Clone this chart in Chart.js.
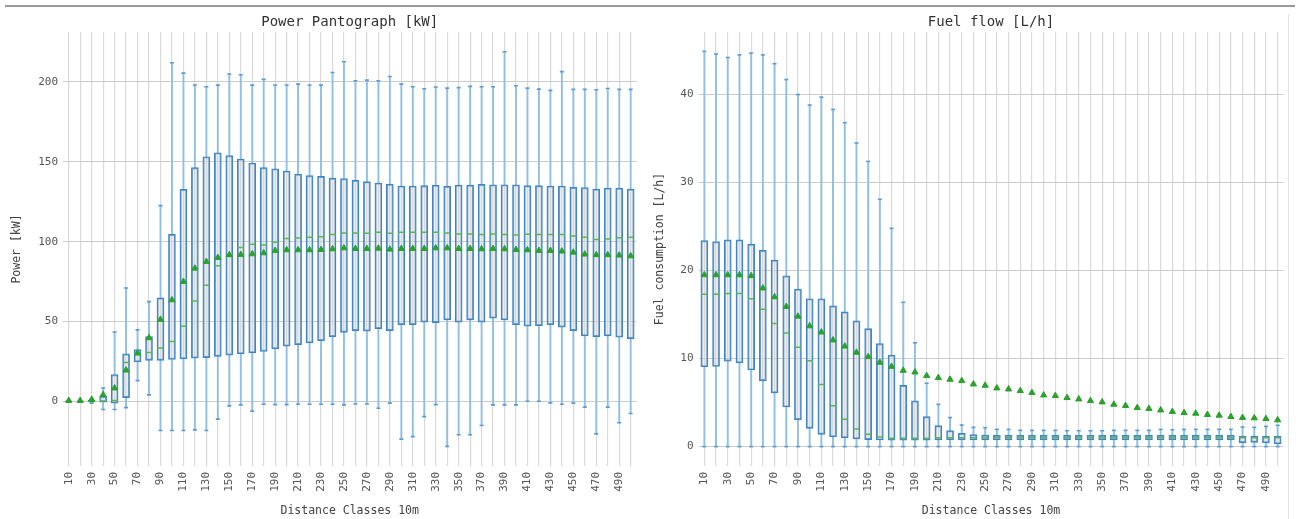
<!DOCTYPE html>
<html><head><meta charset="utf-8">
<script src="https://cdn.jsdelivr.net/npm/chart.js@4.4.1/dist/chart.umd.min.js"></script>
<style>
html,body{margin:0;padding:0;background:#fff;width:1300px;height:519px;overflow:hidden}
#topbar{position:absolute;left:5px;top:5px;width:1290px;height:2px;background:#9a9a9a}
#rline{position:absolute;left:1288px;top:14px;width:1px;height:505px;background:#e3e3e3}
.wrap{position:absolute;top:0;width:650px;height:519px}
</style></head><body>
<div id="topbar"></div>
<div class="wrap" style="left:0"><canvas id="c1" width="650" height="519"></canvas></div>
<div class="wrap" style="left:650px"><canvas id="c2" width="650" height="519"></canvas></div>
<div id="rline"></div>
<script>
const categories = ['10','20','30','40','50','60','70','80','90','100','110','120','130','140','150','160','170','180','190','200','210','220','230','240','250','260','270','280','290','300','310','320','330','340','350','360','370','380','390','400','410','420','430','440','450','460','470','480','490','500'];

// Power Pantograph [kW]
const powerLow = [0,0,-1,-5,-5,-3.8,13.1,4.2,-18.1,-18.1,-18.1,-17.7,-18.1,-11,-2.7,-2.1,-6,-1.7,-1.9,-1.9,-1.7,-1.7,-1.7,-1.7,-2.1,-1.5,-1.5,-4.2,-1,-23.5,-21.9,-9.4,-1.9,-28,-20.8,-20.8,-15,-2.1,-2.1,-2.1,0.2,0.2,-0.8,-1.7,-1,-3.5,-20.2,-3.5,-13.3,-7.5];
const powerQ1 = [0,0,0,-0.4,-1,2.5,24.8,25.8,25.8,26.3,26.7,27.1,27.5,28.3,29,29.8,30.4,31.3,32.9,34.6,35.6,36.7,38.1,40.6,43.3,44.4,44,45.6,44.4,48.1,48.1,49.6,49.4,51,49.6,51,49.6,52.1,51,48.1,47.1,47.5,48.1,46.5,44.4,41,40.6,41,40.2,39.4];
const powerMedian = [0,0,0,0.3,0.6,24.4,29.8,30.6,33.5,37.5,47.1,62.9,72.7,85,90.8,96.3,98.3,97.9,99.6,101.9,102.3,102.7,103.1,104.4,105.4,105.4,105.2,105.8,105.2,105.8,105.8,105.8,105.8,105.4,104.8,104.8,104.4,104.8,104.4,104.2,104.6,104.4,104.4,104.4,103.5,102.7,101.3,101.7,102.5,102.7];
const powerQ3 = [0,0,1,3.3,16.9,29.8,32.5,40.6,64.8,104.6,132.7,146.3,153.1,155.6,153.8,151.7,149.2,146.3,145.6,144.2,142.3,141.3,140.8,139.8,139.4,138.3,137.5,136.7,136,134.8,134.8,135,135.4,134.6,135.4,135.4,135.8,135.6,135.6,135.6,135,135,134.8,134.8,134,133.8,132.9,133.5,133.5,132.9];
const powerHigh = [0,0,1.5,8.5,43.5,71,44.8,62.5,122.5,211.9,205.4,198,196.9,197.9,204.8,204.4,197.9,201.5,198,198,198.5,198,197.9,205.8,212.5,200.6,201,200.6,203.3,198.5,196.9,195.6,196.7,196,196.3,197.1,196.9,196.9,218.75,197.5,196,195.4,194.6,206.3,195.2,195.2,195,195.8,195.2,195.2];
const powerMean = [0.6,0.6,1.3,4.2,8.4,19.6,30.2,39.8,51.3,63.5,75,83.3,87.5,90,91.7,91.9,92.3,92.9,94.4,94.8,94.8,94.8,95,95.4,96,95.6,95.6,95.8,95.2,95.6,95.6,95.6,96,96,95.6,95.6,95.4,95.6,95.4,95,94.8,94.4,94.4,94,93.3,92.1,91.7,91.7,91.5,91];
const powerTicks = [0,50,100,150,200];

// Fuel flow [L/h]
const fuelLow = [0,0,0,0,0,0,0,0,0,0,0,0,0,0,0,0,0,0,0,0,0,0,0,0,0,0,0,0,0,0,0,0,0,0,0,0,0,0,0,0,0,0,0,0,0,0,0,0,0,0];
const fuelQ1 = [9.07,9.1,9.7,9.5,8.7,7.5,6.1,4.5,3.06,2.08,1.4,1.1,1.0,0.87,0.8,0.75,0.72,0.72,0.72,0.72,0.76,0.76,0.76,0.76,0.76,0.76,0.76,0.76,0.76,0.76,0.76,0.76,0.76,0.76,0.76,0.76,0.76,0.76,0.76,0.76,0.76,0.76,0.76,0.76,0.76,0.76,0.45,0.49,0.42,0.3];
const fuelMedian = [17.3,17.3,17.4,17.4,16.8,15.6,14.0,12.9,11.3,9.75,7.06,4.65,3.1,2.0,1.4,1.1,0.94,0.94,0.94,0.94,1.0,1.02,1.02,1.02,1.02,1.02,1.02,1.02,1.02,1.02,1.02,1.02,1.02,1.02,1.02,1.02,1.02,1.02,1.02,1.02,1.02,1.02,1.02,1.02,1.02,1.02,1.02,1.02,1.02,1.02];
const fuelQ3 = [23.4,23.3,23.5,23.5,23.0,22.3,21.2,19.4,17.9,16.8,16.8,16.0,15.3,14.3,13.4,11.7,10.4,6.95,5.2,3.4,2.38,1.81,1.51,1.36,1.32,1.28,1.28,1.28,1.28,1.28,1.28,1.28,1.28,1.28,1.28,1.28,1.28,1.28,1.28,1.28,1.28,1.28,1.28,1.28,1.28,1.28,1.2,1.2,1.2,1.2];
const fuelHigh = [44.9,44.6,44.2,44.5,44.7,44.5,43.5,41.7,40.0,38.8,39.7,38.3,36.8,34.5,32.4,28.1,24.8,16.4,11.8,7.2,4.8,3.3,2.45,2.19,2.15,1.96,1.96,1.85,1.85,1.85,1.85,1.81,1.81,1.81,1.81,1.85,1.85,1.85,1.85,1.96,1.92,1.96,1.96,1.96,1.96,1.96,2.23,2.19,2.3,2.42];
const fuelMean = [19.5,19.5,19.5,19.5,19.4,18.0,17.0,15.9,14.8,13.7,13.0,12.1,11.4,10.7,10.2,9.56,9.1,8.65,8.46,8.05,7.82,7.63,7.48,7.1,6.95,6.65,6.53,6.35,6.12,5.85,5.78,5.55,5.4,5.21,5.06,4.8,4.65,4.42,4.31,4.15,3.97,3.85,3.78,3.63,3.55,3.4,3.29,3.25,3.17,3.02];
const fuelTicks = [0,10,20,30,40];

const FONT = "'DejaVu Sans Mono', monospace";
const BOX_EDGE = '#3d85c6', BOX_FILL = 'rgba(215,215,215,0.45)', WHISKER = '#8fbfe4', CAP = '#5b9bd5';
const MEDIAN = '#5cb552', MEAN = '#2ca02c';

function makeChart(id, o) {
  const n = categories.length;
  const wLow = [], wHigh = [], box = [];
  for (let i = 0; i < n; i++) {
    wLow.push([o.low[i], o.q1[i]]);
    wHigh.push([o.q3[i], o.high[i]]);
    box.push([o.q1[i], o.q3[i]]);
  }
  const pointDs = (data, style, r, color, fill, order, bw) => ({
    type: 'line', data, showLine: false, order,
    pointStyle: style, pointRadius: r, pointHoverRadius: r,
    pointBorderColor: color, pointBackgroundColor: fill, pointBorderWidth: bw
  });
  return new Chart(document.getElementById(id), {
    type: 'bar',
    data: {
      labels: categories,
      datasets: [
        {data: wLow, backgroundColor: WHISKER, borderWidth: 0, barThickness: 1.2, grouped: false, order: 6},
        {data: wHigh, backgroundColor: WHISKER, borderWidth: 0, barThickness: 1.2, grouped: false, order: 6},
        {data: box, backgroundColor: BOX_FILL, borderColor: BOX_EDGE, borderWidth: 1.3, borderSkipped: false, barThickness: 7, grouped: false, order: 5},
        pointDs(o.high, 'line', 2, CAP, CAP, 4, 1.6),
        pointDs(o.low, 'line', 2, CAP, CAP, 4, 1.6),
        pointDs(o.med, 'line', 3.2, MEDIAN, MEDIAN, 2, 1.5),
        pointDs(o.mean, 'triangle', 3.6, MEAN, MEAN, 1, 1)
      ]
    },
    options: {
      responsive: false, animation: false, events: [],
      layout: {padding: {left: 0, right: o.padRight, top: 14, bottom: 0}},
      plugins: {
        legend: {display: false}, tooltip: {enabled: false},
        title: {display: true, text: o.title, fullSize: false, color: '#333',
          font: {family: FONT, size: 14, weight: 'normal'}, padding: {top: 0, bottom: 1.2}}
      },
      scales: {
        x: {
          offset: true,
          border: {display: false},
          grid: {offset: false, drawTicks: false, color: '#dadada', lineWidth: 1.2},
          ticks: {autoSkip: false, minRotation: 90, maxRotation: 90, padding: 6, color: '#555',
            font: {family: FONT, size: 11},
            callback: (v, i) => (i % 2 === 0 ? categories[i] : '')},
          title: {display: true, text: 'Distance Classes 10m', color: '#444',
            font: {family: FONT, size: 11.5}, padding: {top: 0, bottom: 1.1}},
          afterFit: s => { s.height = 53; }
        },
        y: {
          min: o.yMin, max: o.yMax,
          border: {display: false},
          grid: {drawTicks: false, color: '#cccccc', lineWidth: 1},
          ticks: {padding: 5, color: '#555', font: {family: FONT, size: 11}},
          afterBuildTicks: s => { s.ticks = o.yTicks.map(v => ({value: v})); },
          title: {display: true, text: o.yTitle, color: '#444',
            font: {family: FONT, size: 11.5}, padding: {top: o.yTitlePad, bottom: 0}},
          afterFit: s => { s.width = o.areaLeft; }
        }
      }
    }
  });
}

makeChart('c1', {
  title: 'Power Pantograph [kW]', yTitle: 'Power [kW]',
  low: powerLow, q1: powerQ1, med: powerMedian, q3: powerQ3, high: powerHigh, mean: powerMean,
  yMin: -40.3, yMax: 231.1, yTicks: powerTicks, areaLeft: 63, padRight: 4, yTitlePad: 10
});
makeChart('c2', {
  title: 'Fuel flow [L/h]', yTitle: 'Fuel consumption [L/h]',
  low: fuelLow, q1: fuelQ1, med: fuelMedian, q3: fuelQ3, high: fuelHigh, mean: fuelMean,
  yMin: -2.2, yMax: 47.1, yTicks: fuelTicks, areaLeft: 48.5, padRight: 16.5, yTitlePad: 3
});
</script>
</body></html>
